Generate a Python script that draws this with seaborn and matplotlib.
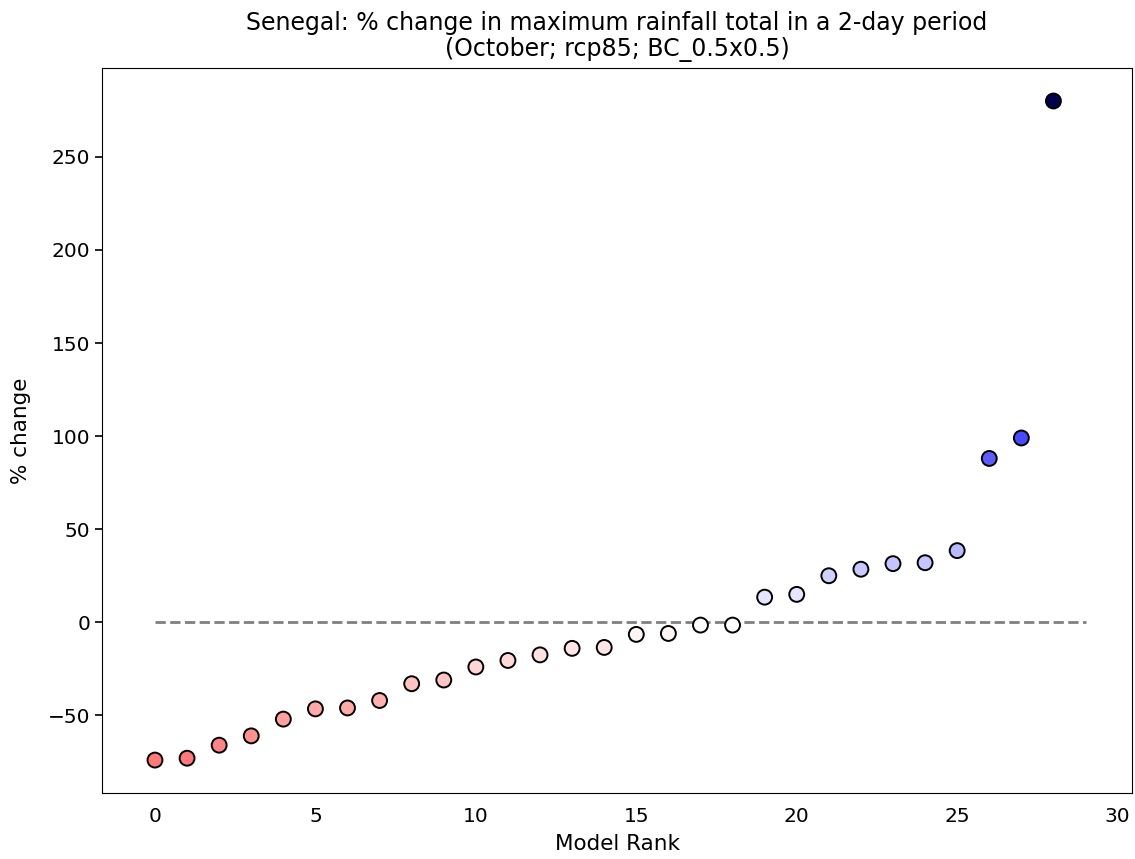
import numpy as np
import pandas as pd
import matplotlib
matplotlib.use('Agg')
import matplotlib.pyplot as plt
import seaborn as sns

# model ranks and their % change values
ranks = list(range(29))
pct_change = [-74, -73, -66, -61, -52, -46.5, -46, -42, -33, -31,
              -24, -20.5, -17.5, -14, -13.5, -6.5, -6, -1.5, -1.5, 13.5,
              15, 25, 28.5, 31.5, 32, 38.5, 88, 99, 280]

title = 'Senegal: % change in maximum rainfall total in a 2-day period\n(October; rcp85; BC_0.5x0.5)'


def rank_plot(out_path):
	df = pd.DataFrame({'rank': ranks, 'change': pct_change})
	vmax = np.abs(df['change']).max()

	plt.rcParams['font.family'] = ['DejaVu Sans']
	fig = plt.figure(figsize=(11.35, 8.59), dpi=100)
	ax = fig.add_axes([0.0899, 0.0768, 0.9075, 0.844])

	# zero reference line across all models
	ax.plot([0, len(df)], [0, 0], color='grey', linestyle='--', linewidth=2)
	sns.scatterplot(x='rank', y='change', data=df, hue='change',
					palette='seismic_r', hue_norm=(-vmax, vmax),
					s=115, edgecolor='black', linewidth=1.4,
					legend=False, ax=ax, zorder=3)

	ax.set_xlim(-1.65, 30.45)
	ax.set_title(title, fontsize=17, pad=9, linespacing=1.1)
	ax.set_xlabel('Model Rank', fontsize=15.5, labelpad=6)
	ax.set_ylabel('% change', fontsize=15.5, labelpad=12)
	ax.tick_params(axis='both', labelsize=14.5)
	ax.tick_params(axis='x', length=0, pad=10)
	ax.tick_params(axis='y', length=5, width=1.2)
	plt.savefig(out_path, dpi=100)


def main():
	rank_plot('out.png')
	print('done')


if __name__ == '__main__':
	main()
